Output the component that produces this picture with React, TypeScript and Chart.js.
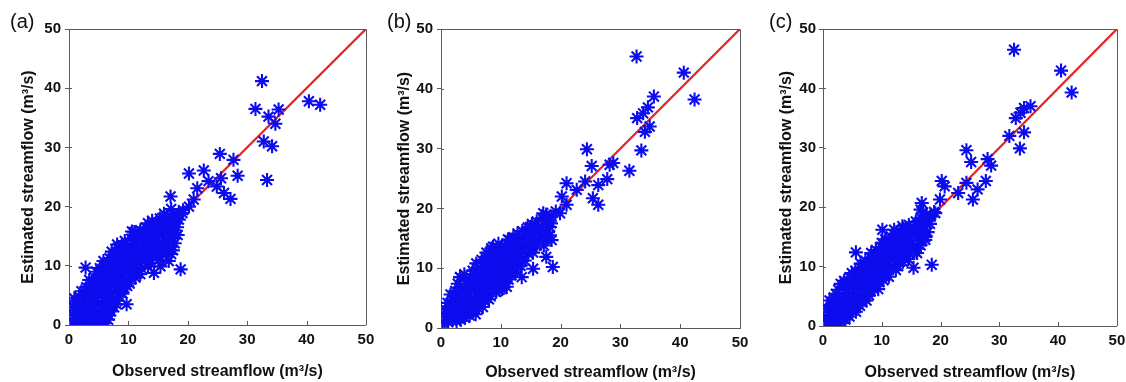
import React, { useEffect, useRef } from "react";
import { Chart, registerables } from "chart.js";
Chart.register(...registerables);

type Pt = [number, number];

const axisTicks = [0, 10, 20, 30, 40, 50];
const panelLabels = ["(a)", "(b)", "(c)"];
const xTitle = "Observed streamflow (m³/s)";
const yTitle = "Estimated streamflow (m³/s)";
const oneToOne: Pt[] = [[0, 0], [50, 50]];

// Panel (a): observed vs estimated streamflow
const panelA: Pt[] = [
  [0.6, 0.3], [1.2, 0.8], [1.8, 0.2], [2.5, 0.5], [3.2, 0.1], [3.9, 0.6], [4.6, 0.2], [5.3, 0.4], [6.0, 0.3], [6.6, 0.9],
  [0.8, 1.6], [1.6, 1.9], [2.3, 1.4], [3.0, 2.0], [3.8, 1.5], [4.5, 2.2], [5.2, 1.6], [6.1, 2.1], [7.0, 2.3], [7.6, 3.0],
  [0.7, 3.0], [1.4, 3.6], [2.1, 2.9], [2.8, 3.4], [3.5, 3.9], [4.2, 3.1], [5.0, 3.7], [5.8, 3.3], [6.5, 4.0], [7.3, 3.8],
  [8.1, 4.1], [0.9, 4.5], [1.7, 4.8], [2.6, 5.2],
  [3.3, 5.6], [4.1, 5.0], [4.9, 5.8], [5.6, 5.1], [6.3, 5.9], [7.1, 5.4], [7.9, 6.0], [8.7, 5.5], [9.3, 6.2], [2.9, 6.4],
  [3.7, 7.0], [4.5, 6.6], [5.4, 7.3], [6.2, 6.8], [7.0, 7.4], [7.8, 7.0], [8.6, 7.6], [9.5, 7.2], [10.2, 7.0],
  [4.3, 8.0], [5.1, 8.6], [5.9, 8.2], [6.7, 8.9], [7.5, 8.4], [8.3, 9.0], [9.1, 8.5], [10.0, 9.1], [10.8, 8.6], [11.5, 9.3],
  [5.2, 9.6], [6.0, 10.2], [6.9, 9.8], [7.7, 10.5], [8.6, 10.1], [9.4, 10.7], [10.3, 10.2], [11.2, 10.8], [12.0, 10.4],
  [12.8, 10.9], [13.3, 9.9],
  [6.8, 11.3], [7.6, 11.9], [8.4, 11.5], [9.2, 12.1], [10.1, 11.7], [11.0, 12.3], [11.8, 11.8], [12.6, 12.4], [13.4, 12.0],
  [14.2, 12.6], [14.8, 11.6], [8.2, 13.0], [9.0, 13.5], [9.9, 13.1], [10.7, 13.7], [11.6, 13.3], [12.4, 13.9], [13.3, 13.4],
  [14.1, 14.0], [15.0, 13.6], [15.8, 13.2], [16.5, 12.5],
  [10.5, 14.6], [11.3, 15.0], [12.2, 14.7], [13.1, 15.3], [14.0, 15.0], [14.9, 15.5], [15.7, 15.1], [16.6, 15.6], [17.3, 14.6],
  [12.0, 16.0], [12.9, 16.5], [13.8, 16.2], [14.7, 16.8], [15.6, 16.4], [16.4, 17.0], [17.3, 16.6], [18.0, 17.3],
  [14.0, 17.6], [15.3, 18.0], [16.6, 18.2], [17.6, 18.6], [18.5, 18.8], [19.2, 19.4],
  [17.5, 12.6], [16.8, 10.8], [18.3, 15.2], [17.8, 13.8],
  [2.8, 9.7], [9.7, 3.5], [18.8, 9.4], [15.4, 9.9], [14.3, 8.8], [10.6, 15.8], [8.1, 13.6],
  [17.1, 21.7], [19.1, 18.9], [20.2, 20.0], [21.0, 21.2], [21.6, 23.1], [20.2, 25.6], [22.7, 26.1], [23.5, 24.3],
  [24.9, 23.4], [25.6, 24.8], [26.1, 22.3], [25.4, 28.9], [27.2, 21.3], [27.7, 27.9], [28.4, 25.2],
  [32.5, 41.2], [31.4, 36.5], [33.6, 35.2], [35.3, 36.4], [34.75, 34.0], [40.4, 37.8], [42.3, 37.2],
  [32.8, 31.0], [34.2, 30.2], [33.35, 24.5],
];

// Panel (a): the denser points inside the main cloud
const panelAFill: Pt[] = [
  [1.0, 1.1], [2.0, 1.0], [3.4, 1.1], [4.9, 1.0], [5.8, 1.2], [6.8, 1.6],
  [1.1, 2.4], [2.5, 2.5], [3.9, 2.7], [5.5, 2.7], [6.8, 3.1], [8.0, 3.5],
  [1.2, 4.1], [2.2, 4.3], [3.1, 4.6], [4.6, 4.5], [5.9, 4.6], [7.0, 4.7], [8.5, 4.8], [9.0, 5.3],
  [2.1, 5.7], [3.6, 6.0], [5.2, 6.2], [6.8, 6.3], [8.3, 6.6], [9.8, 6.6], [10.5, 7.8],
  [3.4, 7.6], [4.9, 7.8], [6.3, 7.7], [7.9, 8.0], [9.3, 7.9], [11.2, 8.0], [12.0, 8.6],
  [4.6, 9.0], [6.3, 9.3], [7.7, 9.3], [9.4, 9.5], [10.8, 9.6], [12.2, 9.6], [13.8, 10.5],
  [5.8, 10.8], [7.3, 11.0], [8.9, 11.0], [10.6, 11.1], [12.2, 11.2], [13.6, 11.2], [15.2, 11.0], [15.8, 12.2],
  [7.2, 12.4], [8.8, 12.6], [10.4, 12.6], [12.0, 12.7], [13.6, 12.9], [15.3, 12.7], [16.6, 13.8], [17.2, 12.0],
  [9.4, 14.2], [11.0, 14.3], [12.8, 14.5], [14.6, 14.4], [16.2, 14.3], [17.8, 15.3], [18.2, 16.5],
  [11.0, 15.7], [12.6, 15.8], [14.3, 15.9], [16.0, 16.0], [17.0, 17.5], [13.3, 17.2], [15.0, 17.3], [16.0, 18.8],
  [18.5, 17.8], [17.2, 19.6],
];

// Panel (b)
const panelB: Pt[] = [
  [0.6, 0.6], [1.2, 1.0], [1.9, 1.3], [2.6, 1.1], [3.3, 1.4], [4.0, 1.7], [0.8, 1.8], [1.5, 2.3], [2.2, 2.0], [3.0, 2.5],
  [3.8, 2.4], [4.6, 2.6], [5.4, 2.9],
  [0.7, 3.1], [1.4, 3.6], [2.1, 3.3], [2.9, 3.8], [3.7, 3.4], [4.5, 3.9], [5.3, 3.7], [6.1, 3.4], [6.8, 4.2], [1.9, 4.7],
  [2.7, 5.0], [3.5, 4.6], [4.3, 5.3], [5.1, 4.8], [5.9, 5.4], [6.7, 5.0], [7.5, 5.6], [8.3, 5.3],
  [2.4, 6.2], [3.2, 6.8], [4.0, 6.3], [4.8, 6.9], [5.6, 6.4], [6.4, 7.0], [7.2, 6.6], [8.0, 7.2], [8.8, 6.8], [9.6, 7.3],
  [10.2, 6.5], [3.2, 8.5], [4.2, 7.8], [5.0, 8.4], [5.8, 8.0], [6.6, 8.6], [7.4, 8.2], [8.2, 8.8], [9.0, 8.4], [9.8, 9.0],
  [10.6, 8.6], [11.3, 8.1],
  [5.3, 9.6], [6.2, 10.1], [7.0, 9.7], [7.8, 10.3], [8.6, 9.9], [9.4, 10.5], [10.2, 10.0], [11.0, 10.6], [11.8, 10.2],
  [12.6, 9.8], [6.8, 11.4], [7.6, 11.9], [8.4, 11.5], [9.2, 12.1], [10.0, 11.7], [10.8, 12.3], [11.6, 11.8], [12.4, 12.4],
  [13.2, 11.9], [14.0, 11.3],
  [8.4, 13.3], [9.3, 13.0], [10.2, 13.6], [11.1, 13.2], [12.0, 13.8], [12.9, 13.4], [13.8, 14.0], [14.6, 13.5], [15.4, 12.6],
  [11.2, 14.8], [12.1, 15.2], [13.0, 14.8], [13.9, 15.4], [14.8, 15.0], [15.6, 15.6], [16.4, 14.6], [17.2, 13.8],
  [13.6, 16.2], [14.5, 16.8], [15.4, 16.4], [16.3, 17.0], [17.1, 16.5], [17.9, 16.0], [16.0, 17.8], [16.9, 18.4],
  [17.7, 17.9], [18.5, 18.6], [19.2, 19.5],
  [3.2, 8.5], [8.7, 13.6], [11.5, 14.7], [14.9, 16.9], [18.2, 16.9], [18.5, 14.7], [17.6, 11.9], [18.7, 10.2], [15.4, 9.9],
  [13.5, 8.5], [11.0, 6.9], [17.1, 19.2],
  [19.9, 19.2], [21.0, 20.6], [20.2, 22.0], [22.7, 23.1], [21.0, 24.2], [24.1, 24.5], [25.4, 21.7], [26.3, 20.6],
  [26.3, 23.9], [27.8, 24.9], [28.8, 27.6], [28.2, 27.3], [25.2, 27.1], [24.4, 29.9], [31.5, 26.3],
  [33.5, 29.7], [34.1, 32.8], [34.9, 33.7], [32.8, 35.1], [33.8, 35.9], [34.6, 36.9], [35.6, 38.7],
  [32.7, 45.4], [40.6, 42.7], [42.4, 38.2],
];

const panelBFill: Pt[] = [
  [1.0, 1.4], [2.4, 1.6], [3.6, 1.9], [4.8, 2.1], [5.8, 2.3],
  [1.1, 2.6], [2.5, 2.8], [4.2, 3.0], [5.7, 3.2], [7.0, 3.5],
  [1.1, 4.2], [2.4, 4.2], [3.9, 4.3], [5.5, 4.4], [7.3, 4.5], [8.0, 4.8],
  [1.6, 5.6], [3.1, 5.7], [4.7, 5.9], [6.3, 5.9], [7.9, 6.1], [9.2, 6.0], [9.8, 6.4],
  [2.8, 7.4], [4.4, 7.3], [6.0, 7.4], [7.6, 7.5], [9.2, 7.7], [10.8, 7.5], [11.8, 8.8],
  [3.9, 9.0], [5.4, 9.0], [7.0, 9.1], [8.6, 9.2], [10.2, 9.3], [11.8, 9.2], [12.5, 10.6], [13.3, 10.4],
  [5.9, 10.8], [7.4, 10.9], [9.0, 11.0], [10.6, 11.1], [12.2, 11.1], [13.6, 11.2], [14.6, 12.4],
  [7.6, 12.6], [9.0, 12.6], [10.6, 12.6], [12.2, 12.8], [13.6, 12.8], [15.0, 13.2], [16.0, 13.8],
  [9.6, 14.1], [11.0, 14.1], [12.6, 14.3], [14.2, 14.5], [15.8, 14.3], [16.9, 15.5], [17.6, 14.8],
  [12.8, 15.8], [14.4, 15.9], [16.0, 16.1], [17.4, 17.2], [18.4, 17.5], [15.2, 17.4], [17.6, 19.0], [18.2, 15.5],
];

// Panel (c)
const panelC: Pt[] = [
  [0.5, 0.4], [1.1, 0.2], [1.7, 0.6], [2.4, 0.3], [3.1, 0.7], [3.8, 1.1], [0.6, 1.5], [1.3, 1.9], [2.0, 1.4], [2.7, 2.0],
  [3.4, 1.7], [4.2, 2.2], [5.0, 2.5],
  [0.7, 2.9], [1.4, 3.5], [2.1, 3.0], [2.8, 3.6], [3.5, 3.1], [4.3, 3.7], [5.1, 3.3], [5.9, 3.9], [6.7, 4.0], [1.1, 4.3],
  [1.8, 4.8], [2.6, 4.4], [3.4, 5.0], [4.2, 4.6], [5.0, 5.2], [5.8, 4.8], [6.6, 5.4], [7.4, 5.0], [8.1, 5.8],
  [2.6, 6.1], [3.4, 6.6], [4.2, 6.2], [5.0, 6.8], [5.8, 6.4], [6.6, 7.0], [7.4, 6.6], [8.2, 7.2], [9.0, 6.8], [9.6, 7.4],
  [3.6, 7.6], [4.5, 8.2], [5.3, 7.8], [6.1, 8.4], [6.9, 8.0], [7.7, 8.6], [8.5, 8.2], [9.3, 8.8], [10.1, 8.4], [10.9, 9.0],
  [5.5, 9.3], [6.4, 9.8], [7.2, 9.4], [8.0, 10.0], [8.8, 9.6], [9.6, 10.2], [10.4, 9.8], [11.2, 10.4], [12.0, 10.0],
  [12.8, 10.1], [7.2, 11.0], [8.1, 11.5], [8.9, 11.1], [9.7, 11.7], [10.5, 11.3], [11.3, 11.9], [12.1, 11.5], [12.9, 12.1],
  [13.7, 11.6], [14.5, 11.3],
  [9.0, 12.8], [9.9, 13.3], [10.8, 12.9], [11.7, 13.5], [12.6, 13.1], [13.5, 13.7], [14.4, 13.3], [15.2, 13.9], [16.0, 13.0],
  [10.6, 14.6], [11.5, 15.1], [12.4, 14.7], [13.3, 15.3], [14.2, 14.9], [15.1, 15.5], [16.0, 15.0], [16.8, 14.4],
  [13.6, 16.4], [14.5, 16.0], [15.4, 16.6], [16.3, 16.2], [17.1, 16.8], [17.8, 15.8], [15.8, 17.6], [16.7, 18.2],
  [17.5, 17.7], [18.3, 18.4], [18.9, 19.2], [16.6, 19.6],
  [5.6, 12.4], [10.1, 16.2], [12.1, 16.2], [13.5, 16.8], [16.0, 12.3], [17.4, 14.5], [18.5, 10.3], [15.4, 9.8], [16.8, 20.7],
  [19.1, 19.0], [19.9, 21.3], [20.7, 23.5], [20.2, 24.4], [23.0, 22.4], [24.4, 24.1], [25.5, 21.3], [26.3, 23.0],
  [27.7, 24.4], [28.6, 27.0], [28.0, 28.1], [25.2, 27.6], [24.4, 29.6],
  [31.7, 32.0], [33.5, 29.9], [34.2, 32.6], [32.8, 35.0], [33.6, 35.9], [34.2, 36.7], [35.3, 37.0],
  [32.5, 46.5], [40.5, 43.0], [42.3, 39.3],
];

const panelCFill: Pt[] = [
  [0.9, 1.0], [2.2, 0.9], [3.4, 1.2], [4.5, 1.6], [5.6, 2.4],
  [1.0, 2.3], [2.4, 2.5], [3.7, 2.5], [4.7, 2.9], [5.6, 3.0], [6.3, 3.4],
  [1.5, 3.8], [2.9, 4.1], [4.6, 4.2], [6.3, 4.5], [7.4, 4.3], [7.8, 5.2],
  [2.2, 5.4], [3.8, 5.5], [5.4, 5.8], [7.0, 6.0], [8.6, 6.2], [9.4, 6.2],
  [3.0, 7.1], [4.6, 7.3], [6.2, 7.5], [7.8, 7.7], [9.4, 7.8], [10.3, 7.7], [11.2, 8.3],
  [4.9, 8.9], [6.5, 9.0], [8.1, 9.1], [9.7, 9.3], [11.2, 9.4], [12.4, 9.4],
  [6.4, 10.5], [8.0, 10.6], [9.6, 10.7], [11.2, 10.9], [12.6, 11.0], [13.6, 10.8], [14.0, 12.4],
  [8.2, 12.3], [9.8, 12.4], [11.4, 12.6], [13.0, 12.6], [14.6, 12.4], [15.6, 12.6], [16.6, 13.6],
  [10.0, 14.0], [11.6, 14.2], [13.2, 14.3], [14.8, 14.4], [16.4, 14.4], [17.4, 15.0],
  [12.6, 15.8], [14.0, 15.8], [15.6, 15.9], [17.0, 16.0], [14.6, 17.0], [16.2, 17.0], [17.6, 18.8], [18.2, 17.2],
  [17.0, 19.1],
];

const panelData: Pt[][] = [
  [...panelA, ...panelAFill],
  [...panelB, ...panelBFill],
  [...panelC, ...panelCFill],
];

interface PanelLayout {
  left: number;
  width: number;
  yWidth: number;
  xHeight: number;
  padRight: number;
  yTitlePad: number;
  xTitlePad: number;
  yTickPad: number;
  labelLeft: number;
}

const layouts: PanelLayout[] = [
  { left: 0, width: 375, yWidth: 69, xHeight: 57, padRight: 9, yTitlePad: 19, xTitlePad: 1, yTickPad: 4, labelLeft: 10 },
  { left: 375, width: 375, yWidth: 66, xHeight: 54, padRight: 10, yTitlePad: 19.5, xTitlePad: 0, yTickPad: 4, labelLeft: 387 },
  { left: 750, width: 376, yWidth: 73, xHeight: 56, padRight: 5, yTitlePad: 26.5, xTitlePad: 0, yTickPad: 3, labelLeft: 769 },
];

const FONT = "'Liberation Sans', Arial, Helvetica, sans-serif";
const AXIS_COLOR = "#5a5a5a";
const TEXT_COLOR = "#111111";
const MARK_COLOR = "rgb(12,12,238)";

const framePlugin = {
  id: "frameAndTicks",
  afterDatasetsDraw(chart: any) {
    const { ctx, chartArea } = chart;
    const { left, top, right, bottom } = chartArea;
    const xs = chart.scales.x;
    const ys = chart.scales.y;
    ctx.save();
    ctx.strokeStyle = AXIS_COLOR;
    ctx.lineWidth = 1;
    ctx.beginPath();
    ctx.moveTo(left, Math.round(top) + 0.5);
    ctx.lineTo(Math.round(right) + 0.5, Math.round(top) + 0.5);
    ctx.lineTo(Math.round(right) + 0.5, bottom);
    ctx.stroke();
    ctx.beginPath();
    for (const v of axisTicks) {
      const px = Math.round(xs.getPixelForValue(v)) + 0.5;
      ctx.moveTo(px, bottom);
      ctx.lineTo(px, bottom - 4);
      const py = Math.round(ys.getPixelForValue(v)) + 0.5;
      ctx.moveTo(left, py);
      ctx.lineTo(left + 3, py);
    }
    ctx.stroke();
    ctx.restore();
  },
};

function Panel({ index }: { index: number }) {
  const ref = useRef<HTMLCanvasElement>(null);
  const L = layouts[index];
  useEffect(() => {
    if (!ref.current) return;
    const pts = panelData[index].map(([x, y]) => ({ x, y }));
    const line = oneToOne.map(([x, y]) => ({ x, y }));
    const chart = new Chart(ref.current, {
      type: "scatter",
      data: {
        datasets: [
          {
            label: "points",
            data: pts,
            pointStyle: "star",
            pointRadius: 7,
            pointBorderWidth: 2.1,
            borderColor: MARK_COLOR,
            backgroundColor: MARK_COLOR,
            order: 1,
            clip: 0,
          } as any,
          {
            label: "1:1",
            data: line,
            showLine: true,
            borderColor: "#e8231e",
            borderWidth: 2.2,
            pointRadius: 0,
            order: 2,
            clip: 0,
          } as any,
        ],
      },
      options: {
        responsive: false,
        animation: false,
        devicePixelRatio: 1,
        events: [],
        layout: { padding: { top: 29, right: L.padRight, left: 0, bottom: 0 } },
        plugins: { legend: { display: false }, tooltip: { enabled: false } },
        scales: {
          x: {
            type: "linear",
            min: 0,
            max: 50,
            afterBuildTicks: (s: any) => {
              s.ticks = axisTicks.map((v) => ({ value: v }));
            },
            afterFit: (s: any) => {
              s.height = L.xHeight;
              s.paddingLeft = 0;
              s.paddingRight = 0;
              s.paddingTop = 0;
              s.paddingBottom = 0;
            },
            ticks: {
              font: { family: FONT, weight: "bold", size: 15 },
              color: TEXT_COLOR,
              padding: 6,
              maxRotation: 0,
            },
            grid: { display: false, drawTicks: false },
            border: { display: true, color: AXIS_COLOR, width: 1 },
            title: {
              display: true,
              text: xTitle,
              font: { family: FONT, weight: "bold", size: 16 },
              color: TEXT_COLOR,
              padding: { top: 0, bottom: L.xTitlePad },
            },
          },
          y: {
            type: "linear",
            min: 0,
            max: 50,
            afterBuildTicks: (s: any) => {
              s.ticks = axisTicks.map((v) => ({ value: v }));
            },
            afterFit: (s: any) => {
              s.width = L.yWidth;
              s.paddingLeft = 0;
              s.paddingRight = 0;
              s.paddingTop = 0;
              s.paddingBottom = 0;
            },
            ticks: {
              font: { family: FONT, weight: "bold", size: 15 },
              color: TEXT_COLOR,
              padding: L.yTickPad,
            },
            grid: { display: true, drawOnChartArea: false, drawTicks: true, tickLength: 4, color: AXIS_COLOR },
            border: { display: true, color: AXIS_COLOR, width: 1 },
            title: {
              display: true,
              text: yTitle,
              font: { family: FONT, weight: "bold", size: 16 },
              color: TEXT_COLOR,
              padding: { top: L.yTitlePad, bottom: 0 },
            },
          },
        },
      } as any,
      plugins: [framePlugin],
    });
    return () => chart.destroy();
  }, [index]);

  return (
    <>
      <canvas
        ref={ref}
        width={L.width}
        height={382}
        style={{ position: "absolute", left: L.left, top: 0, width: L.width, height: 382 }}
      />
      <div
        style={{
          position: "absolute",
          left: L.labelLeft,
          top: 11,
          fontFamily: FONT,
          fontSize: 20,
          lineHeight: "20px",
          color: TEXT_COLOR,
        }}
      >
        {panelLabels[index]}
      </div>
    </>
  );
}

export default function App() {
  return (
    <div
      style={{
        position: "fixed",
        left: 0,
        top: 0,
        width: 1126,
        height: 382,
        background: "#ffffff",
        overflow: "hidden",
      }}
    >
      {[0, 1, 2].map((i) => (
        <Panel key={i} index={i} />
      ))}
    </div>
  );
}
